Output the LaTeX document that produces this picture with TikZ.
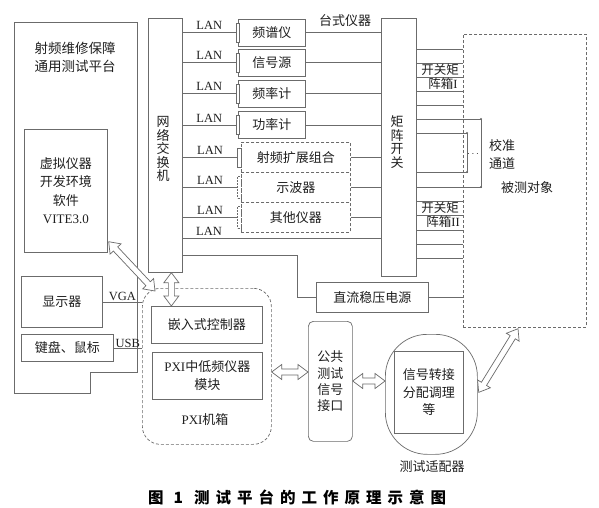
\documentclass[tikz,border=0pt]{standalone}
\usepackage{fontspec}
\setmainfont{Liberation Serif}
\newfontfamily\cjk{Noto Sans CJK SC}
\usetikzlibrary{calc}
\definecolor{lc}{gray}{0.42}
\definecolor{tc}{gray}{0.12}
\newcommand\fs[1]{\fontsize{#1}{#1}\selectfont}
\newcommand\ck{\kern6pt}
\def\ah{10pt}\def\aw{7.5pt}\def\as{3pt}
\tikzset{
 ln/.style={draw=lc, line width=0.7pt},
 bx/.style={ln, inner sep=0pt, anchor=north west, text=tc, font=\cjk\fs{13}, align=center},
 dbx/.style={bx, dash pattern=on 3pt off 2pt},
 lbl/.style={inner sep=0pt, text=tc, font=\fs{12.5}},
 clbl/.style={inner sep=0pt, text=tc, font=\cjk\fs{13}, align=center},
 conn/.style={ln, fill=white, inner sep=0pt, minimum width=3.5pt, minimum height=19pt},
 harrow/.style={ln, fill=white, to path={
  -- ($($(\tikztostart)!\ah!(\tikztotarget)$)!\aw!90:(\tikztotarget)$)
  -- ($($(\tikztostart)!\ah!(\tikztotarget)$)!\as!90:(\tikztotarget)$)
  -- ($($(\tikztotarget)!\ah!(\tikztostart)$)!\as!90:(\tikztotarget)$)
  -- ($($(\tikztotarget)!\ah!(\tikztostart)$)!\aw!90:(\tikztotarget)$)
  -- (\tikztotarget)
  -- ($($(\tikztotarget)!\ah!(\tikztostart)$)!\aw!-90:(\tikztotarget)$)
  -- ($($(\tikztotarget)!\ah!(\tikztostart)$)!\as!-90:(\tikztotarget)$)
  -- ($($(\tikztostart)!\ah!(\tikztotarget)$)!\as!-90:(\tikztotarget)$)
  -- ($($(\tikztostart)!\ah!(\tikztotarget)$)!\aw!-90:(\tikztotarget)$)
  -- cycle}}
}
\begin{document}
\begin{tikzpicture}[x=1pt,y=-1pt]
\path[use as bounding box, fill=white] (0,0) rectangle (599,508);

% platform
\draw[ln] (14,22) -- (137,22) -- (137,372) -- (90,372) -- (90,393) -- (14,393) -- cycle;
\node[clbl, font=\cjk\fontsize{13.5}{18}\selectfont] (plat) at (75,57) {射频维修保障\\通用测试平台};
\node[bx, minimum width=83pt, minimum height=123pt, font=\cjk\fontsize{13}{18.5}\selectfont] (vi) at (24,129) {虚拟仪器\\开发环境\\软件\\{\rmfamily VITE3.0}};
\node[bx, minimum width=81pt, minimum height=51pt] (disp) at (21,276) {显示器};
\node[bx, minimum width=92pt, minimum height=27pt] (kb) at (21,334) {键盘、鼠标};

% switch and matrix
\node[bx, minimum width=34pt, minimum height=254pt] (sw) at (148,18) {};
\node[clbl, font=\cjk\fontsize{13}{13.5}\selectfont] (swt) at (163,149) {网\\络\\交\\换\\机};
\node[bx, minimum width=35pt, minimum height=258pt] (mx) at (381,18) {};
\node[clbl, font=\cjk\fontsize{13}{13.5}\selectfont] (mxt) at (397,142) {矩\\阵\\开\\关};
\node[clbl] (tsyq) at (345,21) {台式仪器};

% instruments
\foreach \n/\txt/\y in {i1/频谱仪/19, i2/信号源/49, i3/频率计/80, i4/功率计/111}{
  \node[bx, minimum width=67pt, minimum height=27pt] (\n) at (238,\y) {\txt};
  \node[conn] (c\n) at (\n.west) {};
}
\foreach \n/\txt/\y in {d1/射频扩展组合/142, d2/示波器/172, d3/其他仪器/202}{
  \node[dbx, minimum width=109pt, minimum height=30pt] (\n) at (241,\y) {\txt};
}
\node[conn] (cd1) at ($(d1.west)+(-1.5,0)$) {};
\node[conn, dash pattern=on 2pt off 1pt, minimum height=22pt] (cd2) at ($(d2.west)+(-1.5,0)$) {};
\node[conn, dash pattern=on 2pt off 1pt, minimum height=22pt] (cd3) at ($(d3.west)+(-1.5,0)$) {};

\foreach \n in {i1,i2,i3,i4,d1,d2,d3}{
  \draw[ln] (c\n.west -| sw.east) -- (c\n.west) node[lbl, midway, above=2.5pt] {LAN};
  \draw[ln] (\n.east) -- (\n.east -| mx.west);
}
\draw[ln] (sw.east |- 0,238) -- (mx.west |- 0,238);
\node[lbl, anchor=south] (lan8) at (209,235.5) {LAN};

% power supply
\node[bx, minimum width=112pt, minimum height=30pt] (dc) at (316,282) {直流稳压电源};
\draw[ln] (sw.east |- 0,255) -- (297,255) |- (dc.west);

% DUT
\node[dbx, minimum width=123pt, minimum height=293pt] (dut) at (463,34) {};
\node[clbl] (dutt) at (527,188) {被测对象};
\draw[ln] (dc.east) -- (dc.east -| dut.west);

\foreach \y in {49,63,77,91,105,201,215,230,244,258}
  \draw[ln] (mx.east |- 0,\y) -- (dut.west |- 0,\y);
\draw[ln] (mx.east |- 0,119) -- (481,119) -- (481,187) -- (mx.east |- 0,187);
\draw[ln] (mx.east |- 0,133) -- (467,133) -- (467,172) -- (mx.east |- 0,172);
\foreach \p in {(481,119),(481,187),(467,133),(467,172)} \fill[lc] \p circle (1.1pt);
\node[inner sep=0pt, text=tc, font=\fs{10}] (dots) at (473,154) {$\cdots$};
\node[clbl, font=\cjk\fontsize{13}{18}\selectfont, align=left, anchor=west] (calt) at (489,154) {校准\\通道};
\node[clbl, font=\cjk\fs{12.5}] (s1a) at (440,70) {开关矩};
\node[clbl, font=\cjk\fs{12.5}] (s1b) at (443,84) {阵箱{\rmfamily I}};
\node[clbl, font=\cjk\fs{12.5}] (s2a) at (440,208) {开关矩};
\node[clbl, font=\cjk\fs{12.5}] (s2b) at (443,222) {阵箱{\rmfamily II}};

% PXI chassis
\node[dbx, rounded corners=18pt, minimum width=129pt, minimum height=156pt] (pxi) at (142,288) {};
\node[bx, minimum width=111pt, minimum height=37pt] (ec) at (151,306) {嵌入式控制器};
\node[bx, minimum width=110pt, minimum height=47pt, font=\cjk\fontsize{13}{18}\selectfont] (pm) at (152,352) {{\rmfamily PXI}中低频仪器\\模块};
\node[clbl] (pxit) at (205,420) {{\rmfamily PXI}机箱};

\draw[ln] (disp.east) -- (disp.east -| pxi.west) node[lbl, midway, above=1pt] {VGA};
\draw[ln] (kb.east) -- (kb.east -| pxi.west) node[lbl, midway, above=-0.5pt] {USB};

% public interface and adapter
\node[bx, rounded corners=5pt, minimum width=44pt, minimum height=120pt, font=\cjk\fontsize{13}{16.3}\selectfont] (pub) at (308,321) {公共\\测试\\信号\\接口};
\node[bx, rounded corners=42pt, minimum width=92pt, minimum height=120pt] (ad) at (385,334) {};
\node[bx, minimum width=69pt, minimum height=82pt, font=\cjk\fontsize{13}{17.5}\selectfont] (adi) at (394,351) {信号转接\\分配调理\\等};
\node[clbl] (adt) at (432,467) {测试适配器};

% hollow arrows
\coordinate (a1) at ($(sw.south)+(6,0)$);
\draw[harrow] (a1) to (a1 |- ec.north);
\draw[harrow] ($(vi.south east)+(1,-11)$) to ($(pxi.north west)+(13,3)$);
\draw[harrow] (pxi.east |- 0,372) to (pub.west |- 0,372);
\draw[harrow] (pub.east |- 0,381) to (ad.west |- 0,381);
\draw[harrow] ($(ad.east)+(1,-2)$) to ($(dut.south west)+(55,1)$);

% caption
\node[inner sep=0pt, anchor=west, text=black, font=\cjk\bfseries\fs{15.5}] (cap) at (148,497) {图\kern10pt 1\kern11pt 测\ck 试\ck 平\ck 台\ck 的\ck 工\ck 作\ck 原\ck 理\ck 示\ck 意\ck 图};
\end{tikzpicture}
\end{document}
